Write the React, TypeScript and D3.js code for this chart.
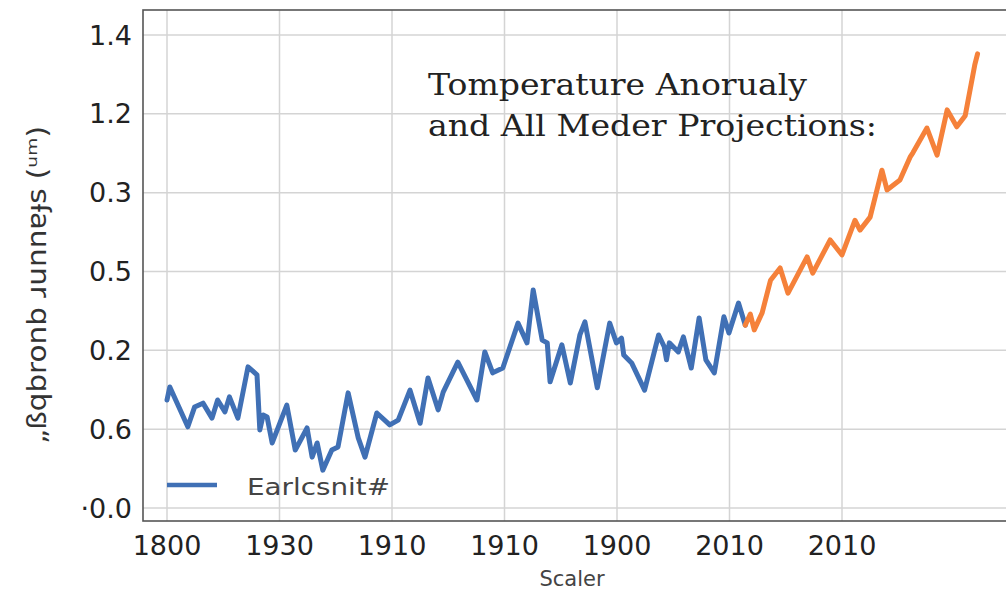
import React from "react";
import * as d3 from "d3";

// x is a uniform "year" scale: tick k sits at 1880 + 20k
const xTickValues = [1880, 1900, 1920, 1940, 1960, 1980, 2000];
const xTickLabels = ["1800", "1930", "1910", "1910", "1900", "2010", "2010"];
const yTickValues = [0, 0.2, 0.4, 0.6, 0.8, 1.0, 1.2];
const yTickLabels = ["·0.0", "0.6", "0.2", "0.5", "0.3", "1.2", "1.4"];

const histYears = [1880.0,1880.5,1883.7,1884.9,1886.4,1888.0,1889.0,1890.3,1891.1,1892.6,1894.4,1896.0,1896.5,1897.1,1897.8,1898.7,1901.3,1902.8,1904.9,1905.8,1906.7,1907.7,1909.3,1910.4,1912.2,1914.0,1915.2,1917.3,1919.6,1921.1,1923.2,1925.0,1926.4,1928.2,1929.1,1931.7,1935.1,1936.5,1937.9,1939.7,1942.4,1944.0,1945.1,1946.7,1947.6,1948.1,1950.2,1951.7,1953.4,1954.3,1956.5,1958.7,1959.9,1960.8,1961.2,1962.6,1964.9,1967.4,1968.4,1968.8,1969.3,1970.9,1971.8,1973.2,1974.6,1975.8,1977.3,1979.0,1979.9,1981.6,1982.8];
const histValues = [0.274,0.307,0.206,0.256,0.266,0.228,0.274,0.244,0.282,0.228,0.358,0.338,0.198,0.236,0.231,0.165,0.261,0.147,0.203,0.129,0.165,0.096,0.147,0.155,0.292,0.178,0.129,0.241,0.211,0.223,0.299,0.215,0.330,0.249,0.294,0.370,0.274,0.396,0.343,0.355,0.469,0.419,0.553,0.426,0.419,0.320,0.414,0.317,0.439,0.472,0.305,0.469,0.419,0.431,0.388,0.368,0.299,0.439,0.409,0.376,0.419,0.396,0.434,0.355,0.482,0.376,0.343,0.485,0.444,0.520,0.464];

const projYears = [1982.8,1983.7,1984.4,1985.8,1987.3,1989.0,1990.4,1993.8,1994.8,1997.9,2000.0,2002.3,2003.2,2005.0,2007.1,2008.0,2010.3,2012.1,2012.6,2015.1,2016.9,2018.7,2020.4,2021.9,2023.6,2024.1];
const projValues = [0.464,0.492,0.452,0.495,0.578,0.609,0.545,0.637,0.596,0.680,0.642,0.730,0.705,0.738,0.857,0.807,0.832,0.890,0.901,0.964,0.895,1.010,0.967,0.995,1.124,1.152];

const W = 1006, H = 590;
const left = 143, top = 10, right = 1012, bottom = 521;

export default function App() {
  const x = d3.scaleLinear().domain([1880, 2000]).range([167, 842]);
  const y = d3.scaleLinear().domain([0, 1.2]).range([508, 35]);
  const line = d3.line<[number, number]>().x(d => x(d[0])).y(d => y(d[1])).curve(d3.curveLinear);
  const hist: [number, number][] = histYears.map((t, i) => [t, histValues[i]]);
  const proj: [number, number][] = projYears.map((t, i) => [t, projValues[i]]);

  return (
    <svg width={W} height={H} style={{ position: "absolute", left: 0, top: 0, background: "#fff" }}>
      <rect x={0} y={0} width={W} height={H} fill="#fff" />
      <g stroke="#d4d4d4" strokeWidth={1.5}>
        {xTickValues.map(v => <line key={"gx" + v} x1={x(v)} x2={x(v)} y1={top} y2={bottom} />)}
        {yTickValues.map(v => <line key={"gy" + v} x1={left} x2={right} y1={y(v)} y2={y(v)} />)}
      </g>
      <rect x={left} y={top} width={right - left} height={bottom - top} fill="none" stroke="#555" strokeWidth={1.6} />
      <path d={line(hist) || ""} fill="none" stroke="#4070b5" strokeWidth={5} strokeLinejoin="round" strokeLinecap="round" />
      <path d={line(proj) || ""} fill="none" stroke="#f5813a" strokeWidth={5} strokeLinejoin="round" strokeLinecap="round" />
      <g fontFamily="DejaVu Sans" fontSize={27} fill="#222">
        {yTickValues.map((v, i) => (
          <text key={"ty" + v} x={132} y={y(v)} textAnchor="end" dominantBaseline="central">{yTickLabels[i]}</text>
        ))}
        {xTickValues.map((v, i) => (
          <text key={"tx" + v} x={x(v)} y={555} textAnchor="middle">{xTickLabels[i]}</text>
        ))}
      </g>
      <text x={572} y={586} textAnchor="middle" fontFamily="DejaVu Sans" fontSize={21} fill="#444">Scaler</text>
      <text transform="translate(46,285) rotate(-90)" textAnchor="middle" fontFamily="DejaVu Sans" fontSize={27} fill="#333" textLength={318} lengthAdjust="spacingAndGlyphs">„ßqbronb ɹunnɐɟs (ᵘᵐ)</text>
      <g fontFamily="DejaVu Serif" fontSize={30.5} fill="#222">
        <text x={428} y={95} textLength={379} lengthAdjust="spacingAndGlyphs">Tomperature Anorualy</text>
        <text x={428} y={136} textLength={449} lengthAdjust="spacingAndGlyphs">and All Meder Projections:</text>
      </g>
      <line x1={167} x2={217} y1={485} y2={485} stroke="#4070b5" strokeWidth={4.5} />
      <text x={247} y={495} fontFamily="DejaVu Sans" fontSize={23} fill="#444" textLength={143} lengthAdjust="spacingAndGlyphs">Earlcsnit#</text>
    </svg>
  );
}
